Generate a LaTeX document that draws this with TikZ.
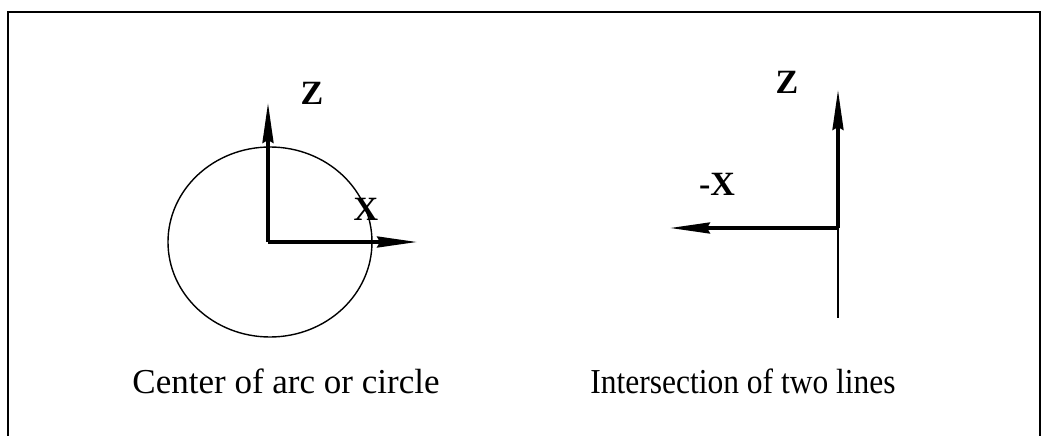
\documentclass[tikz,border=0pt]{standalone}
\usepackage{fontspec}
\setmainfont{Liberation Serif}
\usetikzlibrary{arrows.meta}
\tikzset{
  axis/.style={line width=3.2pt,-{Stealth[length=40pt,width=11pt,inset=3pt]}},
  thinline/.style={line width=1.4pt},
  lbl/.style={font=\fontsize{34}{36}\selectfont\bfseries,inner sep=0pt},
  captxt/.style={font=\fontsize{35}{38}\selectfont,inner sep=0pt,anchor=base},
}
\begin{document}
\begin{tikzpicture}[x=1pt,y=-1pt]
\useasboundingbox (0,0) rectangle (1045,436);
\fill[white] (0,0) rectangle (1045,436);
% frame (open at bottom)
\draw[line width=2pt] (8,436) -- (8,12) -- (1040,12) -- (1040,436);
% left figure
\coordinate (o1) at (268,242);
\coordinate (z1) at (268,103);
\coordinate (x1) at (417,242);
\draw[thinline] (270,242) ellipse [x radius=102, y radius=95];
\draw[axis] (o1) -- (z1);
\draw[axis] (o1) -- (x1);
\node[lbl] (lz1) at (312,93) {Z};
\node[lbl] (lx1) at (366,209) {X};
\node[captxt] (c1) at (286,393) {Center of arc or circle};
% right figure
\coordinate (o2) at (838,228);
\coordinate (z2) at (838,90);
\coordinate (x2) at (670,228);
\coordinate (d2) at (838,318);
\draw[thinline] (o2) -- (d2);
\draw[axis] (o2) -- (z2);
\draw[axis] (o2) -- (x2);
\node[lbl] (lz2) at (787,82) {Z};
\node[lbl] (lx2) at (717,184) {-X};
\node[captxt,xscale=0.9] (c2) at (743,393) {Intersection of two lines};
\end{tikzpicture}
\end{document}
